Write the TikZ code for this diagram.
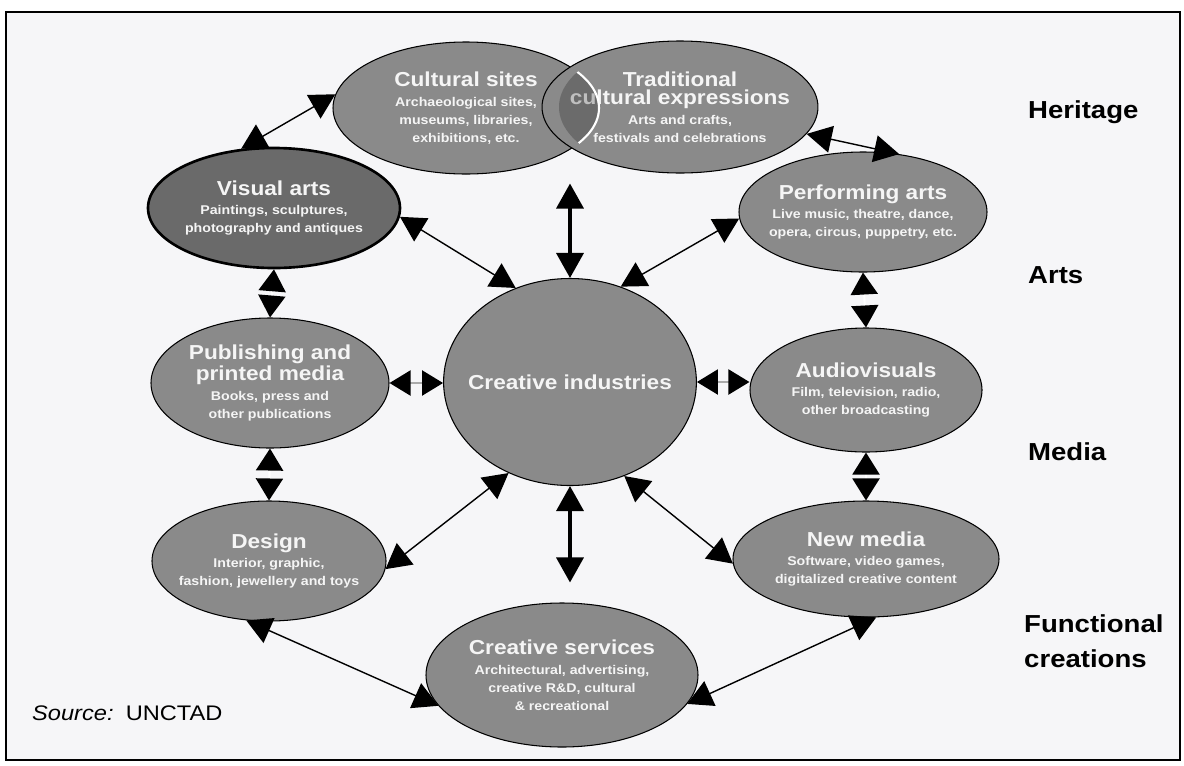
\documentclass[tikz,border=0pt]{standalone}
\usepackage{fontspec}
\setmainfont{Liberation Sans}[FakeStretch=1.12]
\usetikzlibrary{shapes.geometric,arrows.meta}

\definecolor{bubblegray}{RGB}{138,138,138}
\definecolor{darkbubble}{RGB}{106,106,106}
\definecolor{paper}{RGB}{246,246,248}
\definecolor{shaftgray}{RGB}{170,170,170}

\newcommand{\btitle}[1]{{\fontsize{11.5}{12}\selectfont\bfseries #1}}
\newcommand{\bsub}[1]{{\fontsize{7.2}{9}\selectfont\bfseries #1}}

\begin{document}
\begin{tikzpicture}[x=0.02cm,y=-0.02cm,
    bubble/.style={ellipse, draw=black, line width=0.6pt, fill=bubblegray,
        text=white!96!black, align=center, inner xsep=-0.25cm, inner ysep=-0.1cm,
        font=\fontsize{7.2}{10.2}\selectfont},
    side/.style={font=\fontsize{14}{20}\selectfont\bfseries, anchor=west, align=left},
    link/.style={{Triangle[length=0.5cm,width=0.54cm]}-{Triangle[length=0.5cm,width=0.54cm]},
        line width=0.8pt},
    gaplink/.style={{Triangle[length=0.44cm,width=0.54cm,color=black]}-{Triangle[length=0.44cm,width=0.54cm,color=black]},
        draw=white, line width=1.2pt},
    greylink/.style={{Triangle[length=0.42cm,width=0.5cm,color=black]}-{Triangle[length=0.42cm,width=0.5cm,color=black]},
        draw=shaftgray, line width=1.2pt}]

    \path[use as bounding box] (0,0) rectangle (1184,765);
    \draw[line width=1pt, fill=paper] (6,12) rectangle (1180,760);

    % heritage
    \node[bubble, minimum width=266*0.02cm, minimum height=132*0.02cm] (cs) at (466,108)
        {\btitle{Cultural sites}\\[1pt] \bsub{Archaeological sites,}\\ \bsub{museums, libraries,}\\ \bsub{exhibitions, etc.}};
    \node[bubble, minimum width=242*0.02cm, minimum height=132*0.02cm] (tce) at (680,107)
        {\btitle{Traditional}\\ \btitle{cultural expressions}\\[1pt] \bsub{Arts and crafts,}\\ \bsub{festivals and celebrations}};
    \begin{scope}
        \clip (tce.center) ellipse [x radius=121, y radius=66];
        \fill[black, fill opacity=0.22] (cs.center) ellipse [x radius=133, y radius=66];
        \draw[white, line width=1.2pt] (cs.center) ellipse [x radius=133, y radius=66];
    \end{scope}

    % arts
    \node[bubble, fill=darkbubble, line width=1.5pt, minimum width=252*0.02cm, minimum height=120*0.02cm] (va) at (274,208)
        {\btitle{Visual arts}\\[1pt] \bsub{Paintings, sculptures,}\\ \bsub{photography and antiques}};
    \node[bubble, minimum width=248*0.02cm, minimum height=120*0.02cm] (pa) at (863,212)
        {\btitle{Performing arts}\\[1pt] \bsub{Live music, theatre, dance,}\\ \bsub{opera, circus, puppetry, etc.}};

    % media
    \node[bubble, minimum width=238*0.02cm, minimum height=130*0.02cm] (pub) at (270,383)
        {\btitle{Publishing and}\\ \btitle{printed media}\\[1pt] \bsub{Books, press and}\\ \bsub{other publications}};
    \node[bubble, minimum width=234*0.02cm, minimum height=207*0.02cm, font=\fontsize{11.5}{12}\selectfont\bfseries] (ci) at (570,382)
        {Creative industries};
    \node[bubble, minimum width=232*0.02cm, minimum height=124*0.02cm] (av) at (866,390)
        {\btitle{Audiovisuals}\\[1pt] \bsub{Film, television, radio,}\\ \bsub{other broadcasting}};

    % functional creations
    \node[bubble, minimum width=234*0.02cm, minimum height=120*0.02cm] (des) at (269,561)
        {\btitle{Design}\\[1pt] \bsub{Interior, graphic,}\\ \bsub{fashion, jewellery and toys}};
    \node[bubble, minimum width=266*0.02cm, minimum height=116*0.02cm] (nm) at (866,559)
        {\btitle{New media}\\[1pt] \bsub{Software, video games,}\\ \bsub{digitalized creative content}};
    \node[bubble, minimum width=272*0.02cm, minimum height=144*0.02cm] (cserv) at (562,675)
        {\btitle{Creative services}\\[1pt] \bsub{Architectural, advertising,}\\ \bsub{creative R\&D, cultural}\\ \bsub{\& recreational}};

    % connectors
    \draw[link] (va.119) -- (cs.174);
    \draw[link] (tce.-12) -- (pa.58);
    \draw[link] (va.-4) -- (ci.120);
    \draw[link, line width=2pt, shorten >=0.18cm] (ci.north) -- (ci.north |- cs.south);
    \draw[link] (ci.62) -- (pa.183);
    \draw[gaplink] (va.south) -- (pub.north);
    \draw[gaplink] (pa.south) -- (av.north);
    \draw[greylink] (pub.east) -- (pub.east -| ci.west);
    \draw[greylink] (ci.east) -- (ci.east -| av.west);
    \draw[gaplink] (pub.south) -- (des.north);
    \draw[gaplink] (av.south) -- (nm.north);
    \draw[link] (ci.236) -- (des.-4);
    \draw[link] (ci.-60) -- (nm.182);
    \draw[link, line width=2pt, shorten >=0.4cm] (ci.south) -- (ci.south |- cserv.north);
    \draw[link] (des.249) -- (cserv.194);
    \draw[link] (nm.-80) -- (cserv.-13);

    % groups
    \node[side] (heritage) at (1022,112) {Heritage};
    \node[side] (arts) at (1022,275) {Arts};
    \node[side] (media) at (1022,452) {Media};
    \node[side] (functional) at (1018,641) {Functional\\creations};

    \node[anchor=west, font=\fontsize{12}{14}\selectfont] (source) at (26,713) {\textit{Source:}\, UNCTAD};
\end{tikzpicture}
\end{document}
